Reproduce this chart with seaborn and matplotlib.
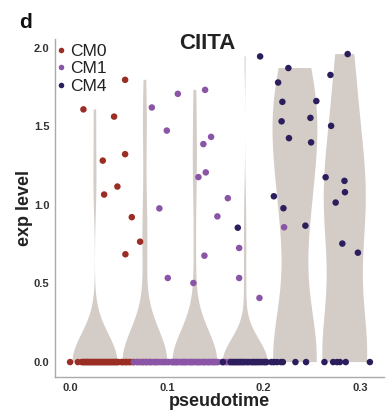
import numpy as np
import pandas as pd
import matplotlib
matplotlib.use("Agg")
import matplotlib.pyplot as plt
from matplotlib.lines import Line2D
import seaborn as sns

# --- cells with non-zero expression (pseudotime, exp level) per cluster ---
cm0_pt = [0.0138, 0.0455, 0.0338, 0.0489, 0.0352, 0.0569, 0.0569, 0.0638, 0.0724, 0.0572]
cm0_exp = [1.608, 1.562, 1.282, 1.117, 1.066, 1.796, 1.323, 0.922, 0.766, 0.686]

cm1_pt = [0.0845, 0.1114, 0.1000, 0.1396, 0.1458, 0.1378, 0.1403, 0.1327, 0.1631,
          0.1523, 0.1748, 0.1389, 0.1010, 0.1275, 0.1748, 0.1958, 0.0923, 0.2213]
cm1_exp = [1.620, 1.707, 1.473, 1.732, 1.433, 1.387, 1.207, 1.177, 1.043,
           0.927, 0.726, 0.677, 0.535, 0.503, 0.535, 0.408, 0.978, 0.858]

cm4_pt = [0.1965, 0.2257, 0.2151, 0.2195, 0.2187, 0.2263, 0.2546, 0.2485, 0.2492, 0.2870, 0.2692,
          0.2699, 0.2642, 0.2837, 0.2842, 0.2746, 0.2107, 0.2206, 0.2433, 0.2815, 0.2976, 0.1734]
cm4_exp = [1.945, 1.871, 1.779, 1.656, 1.532, 1.425, 1.661, 1.554, 1.398, 1.960, 1.827,
           1.503, 1.176, 1.153, 1.081, 1.015, 1.055, 0.979, 0.868, 0.754, 0.696, 0.855]

# --- cells with zero expression: pseudotime only ---
cm0_zero_pt = [0.000, 0.008, 0.012, 0.013, 0.014, 0.015, 0.016, 0.017, 0.018, 0.019, 0.020, 0.021,
               0.022, 0.023, 0.024, 0.025, 0.026, 0.027, 0.028, 0.029, 0.030, 0.031, 0.032, 0.033,
               0.034, 0.035, 0.036, 0.037, 0.038, 0.039, 0.040, 0.041, 0.042, 0.043, 0.044, 0.045,
               0.046, 0.047, 0.048, 0.049, 0.050, 0.053, 0.054, 0.055, 0.057, 0.058, 0.059, 0.061,
               0.062, 0.064, 0.066, 0.069, 0.072, 0.075, 0.079, 0.083, 0.088]
cm1_zero_pt = [0.066, 0.070, 0.074, 0.076, 0.078, 0.080, 0.082, 0.084, 0.086, 0.088, 0.090, 0.091,
               0.093, 0.095, 0.096, 0.098, 0.099, 0.101, 0.102, 0.105, 0.106, 0.107, 0.108, 0.109,
               0.110, 0.111, 0.112, 0.114, 0.115, 0.116, 0.117, 0.118, 0.119, 0.120, 0.121, 0.123,
               0.124, 0.125, 0.126, 0.127, 0.128, 0.130, 0.131, 0.132, 0.133, 0.134, 0.135, 0.137,
               0.138, 0.139, 0.140, 0.142, 0.143, 0.144, 0.145, 0.147, 0.148, 0.149, 0.150, 0.152,
               0.153, 0.157, 0.159, 0.161, 0.162, 0.164, 0.165, 0.167, 0.168, 0.170, 0.172, 0.174,
               0.176, 0.178, 0.180, 0.182, 0.184, 0.187, 0.189, 0.191, 0.193, 0.196, 0.198, 0.201,
               0.203, 0.210]
cm4_zero_pt = [0.158, 0.166, 0.168, 0.170, 0.172, 0.174, 0.176, 0.178, 0.180, 0.183, 0.185, 0.188,
               0.190, 0.192, 0.194, 0.196, 0.199, 0.201, 0.203, 0.208, 0.211, 0.214, 0.218, 0.220,
               0.233, 0.244, 0.263, 0.272, 0.276, 0.279, 0.285, 0.310]

clusters = ["CM0", "CM1", "CM4"]
palette = {"CM0": "#9a2e24", "CM1": "#8a55a6", "CM4": "#2c1e5c"}
violin_color = "#d4ccc7"
n_bins = 6

frames = []
for name, pt, ex, zpt in [("CM0", cm0_pt, cm0_exp, cm0_zero_pt),
                          ("CM1", cm1_pt, cm1_exp, cm1_zero_pt),
                          ("CM4", cm4_pt, cm4_exp, cm4_zero_pt)]:
    frames.append(pd.DataFrame({"pseudotime": pt, "exp": ex, "cluster": name}))
    frames.append(pd.DataFrame({"pseudotime": zpt, "exp": 0.0, "cluster": name}))
df = pd.concat(frames, ignore_index=True)

# bin pseudotime into equal-width windows, violin sits at the bin centre
bins = pd.cut(df["pseudotime"], bins=n_bins)
df["bin_mid"] = bins.apply(lambda iv: iv.mid).astype(float)

sns.set_theme(style="white")
plt.rcParams["font.family"] = ["Liberation Sans", "DejaVu Sans"]

fig = plt.figure(figsize=(3.88, 4.13), dpi=100)
ax = fig.add_axes([0.142, 0.087, 0.848, 0.819])

sns.violinplot(data=df, x="bin_mid", y="exp", native_scale=True, orient="x",
               cut=0, density_norm="width", inner=None, color=violin_color,
               linewidth=0, width=0.9, bw_adjust=0.9, saturation=1, ax=ax)
for coll in ax.collections:
    coll.set_edgecolor("none")
    coll.set_alpha(1)

sns.scatterplot(data=df, x="pseudotime", y="exp", hue="cluster", hue_order=clusters,
                palette=palette, s=22, linewidth=0, legend=False, ax=ax, zorder=3)

ax.set_xlim(-0.0155, 0.3247)
ax.set_ylim(-0.0955, 2.057)
ax.set_xticks([0.0, 0.1, 0.2, 0.3])
ax.set_yticks([0.0, 0.5, 1.0, 1.5, 2.0])
ax.set_xticklabels(["0.0", "0.1", "0.2", "0.3"])
ax.set_yticklabels(["0.0", "0.5", "1.0", "1.5", "2.0"])
ax.tick_params(axis="both", labelsize=8, colors="#333333", length=2, width=0.6, pad=2)
for lab in ax.get_xticklabels() + ax.get_yticklabels():
    lab.set_fontweight("bold")
ax.tick_params(axis="both", color="#999999")

for side in ["top", "right"]:
    ax.spines[side].set_visible(False)
for side in ["left", "bottom"]:
    ax.spines[side].set_color("#aaaaaa")
    ax.spines[side].set_linewidth(1.0)

ax.set_xlabel("pseudotime", fontsize=13, fontweight="bold", color="#222222", labelpad=0)
ax.set_ylabel("exp level", fontsize=13, fontweight="bold", color="#222222", labelpad=1)

ax.text(0.462, 0.985, "CIITA", transform=ax.transAxes, ha="center", va="center",
        fontsize=16, fontweight="bold", color="#222222")
fig.text(0.05, 0.945, "d", ha="left", va="center", fontsize=15, fontweight="bold", color="#111111")

handles = [Line2D([], [], marker="o", linestyle="", markersize=4, markerfacecolor=palette[c],
                  markeredgewidth=0, label=c) for c in clusters]
ax.legend(handles=handles, loc="upper left", bbox_to_anchor=(-0.025, 1.005), frameon=False,
          fontsize=12.5, handletextpad=0.15, labelspacing=0.12, borderaxespad=0.0,
          handlelength=0.8, labelcolor="#222222")

fig.savefig("out.png", dpi=100)
